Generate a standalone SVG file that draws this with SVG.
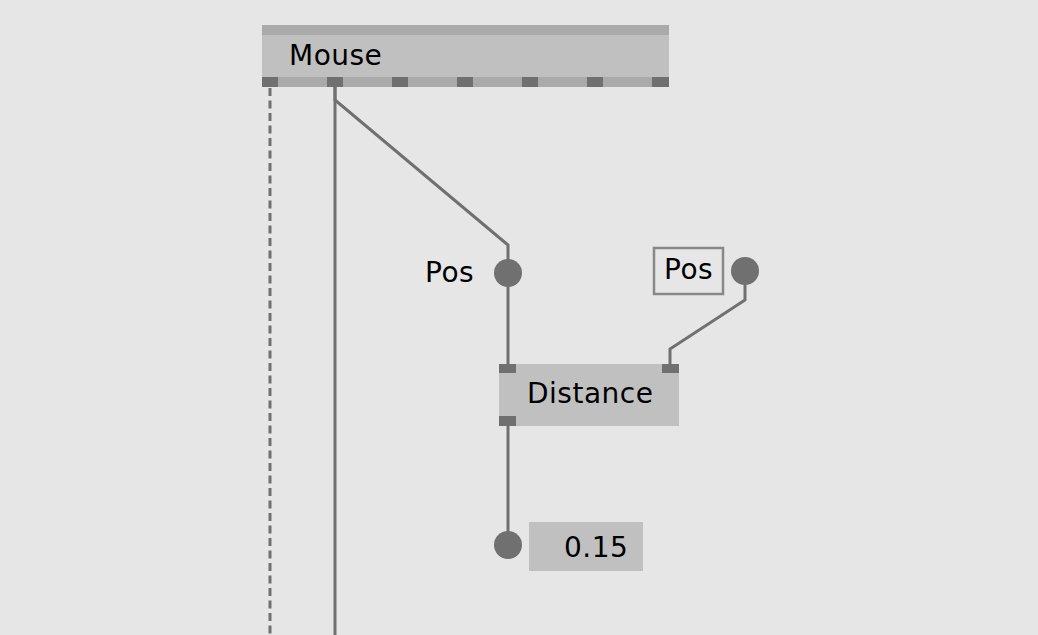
<svg xmlns="http://www.w3.org/2000/svg" width="1038" height="635" viewBox="0 0 1038 635">
<style>
.t{font-family:"DejaVu Sans",sans-serif;font-size:28px;fill:#000;letter-spacing:0.5px}
.pin{fill:#707070}
.w{stroke:#707070;stroke-width:3;fill:none}
.dot{fill:#707070}
</style>
<rect width="1038" height="635" fill="#e6e6e6"/>
<g id="connectors">
<line class="w" x1="270" y1="88" x2="270" y2="635" stroke-dasharray="8,4.5"/>
<line class="w" x1="335" y1="87" x2="335" y2="635"/>
<polyline class="w" points="335,87 335,100 508,245 508,265"/>
<polyline class="w" points="508,280 508,368"/>
<polyline class="w" points="745,280 745,300 670,349 670,368"/>
<polyline class="w" points="508,420 508,540"/>
</g>
<g id="mouse">
<rect x="262" y="25" width="407" height="62" fill="#c0c0c0"/>
<rect x="262" y="25" width="407" height="10" fill="#aaaaaa"/>
<rect x="262" y="77" width="407" height="10" fill="#aaaaaa"/>
<rect class="pin" x="262" y="77" width="16" height="10"/>
<rect class="pin" x="327" y="77" width="16" height="10"/>
<rect class="pin" x="392" y="77" width="16" height="10"/>
<rect class="pin" x="457" y="77" width="16" height="10"/>
<rect class="pin" x="522" y="77" width="16" height="10"/>
<rect class="pin" x="587" y="77" width="16" height="10"/>
<rect class="pin" x="652" y="77" width="17" height="10"/>
<text class="t" x="289" y="65">Mouse</text>
</g>
<g id="pos1">
<circle class="dot" cx="508" cy="273" r="14"/>
<text class="t" x="425" y="282">Pos</text>
</g>
<g id="pos2">
<rect x="654" y="248" width="69" height="46" fill="#e6e6e6" stroke="#888888" stroke-width="2.5"/>
<text class="t" x="664" y="279">Pos</text>
<circle class="dot" cx="745" cy="271" r="14"/>
</g>
<g id="distance">
<rect x="499" y="364" width="180" height="62" fill="#c0c0c0"/>
<rect class="pin" x="499" y="364" width="17" height="9"/>
<rect class="pin" x="662" y="364" width="17" height="9"/>
<rect class="pin" x="499" y="416" width="17" height="10"/>
<text class="t" x="527" y="403">Distance</text>
</g>
<g id="value">
<circle class="dot" cx="508" cy="545" r="14"/>
<rect x="529" y="522" width="114" height="49" fill="#c0c0c0"/>
<text class="t" x="564" y="557">0.15</text>
</g>
</svg>
